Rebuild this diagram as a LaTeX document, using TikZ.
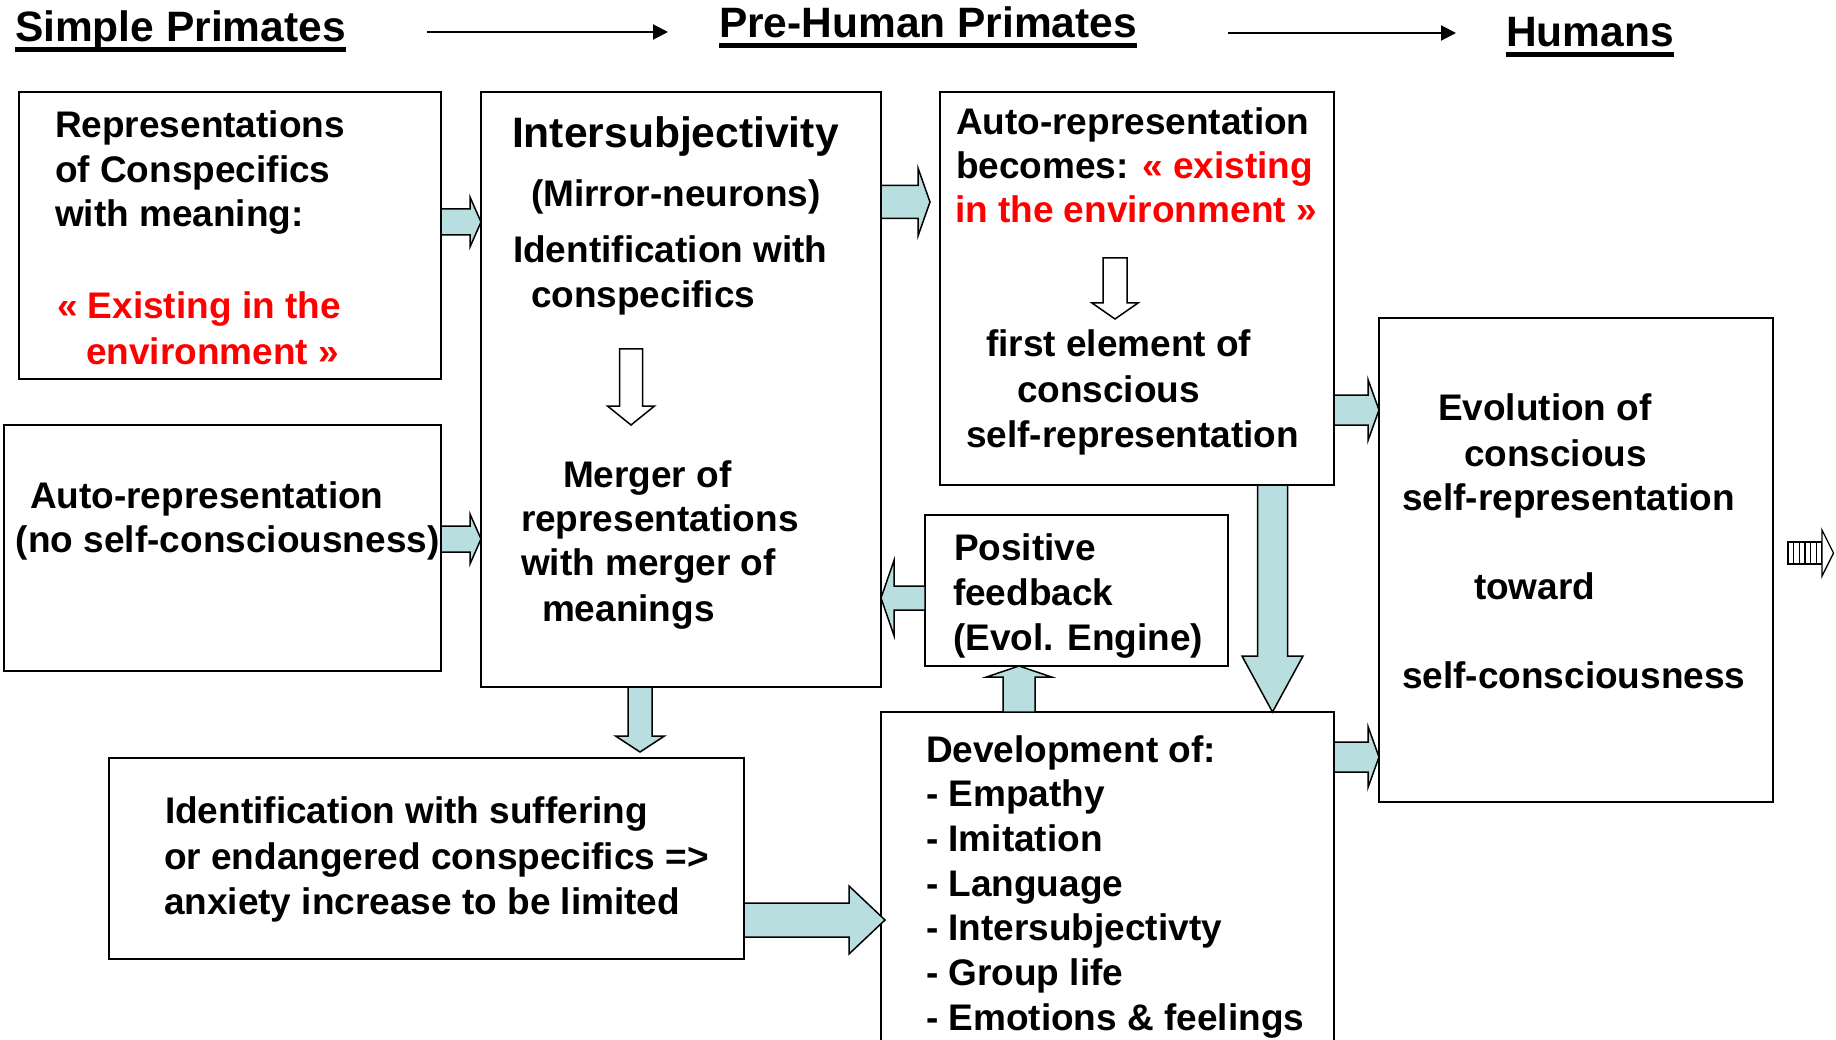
\documentclass[tikz,border=0pt]{standalone}
\usepackage{fontspec}
\usetikzlibrary{calc,arrows.meta}
\newfontfamily\af{Liberation Sans}
\definecolor{cy}{RGB}{184,222,224}
\definecolor{rd}{RGB}{255,0,0}
\newcommand\regf{\af\bfseries\fontsize{37}{44.6}\selectfont}
\newcommand\bigf{\af\bfseries\fontsize{42.6}{51}\selectfont}
\newcommand\ttlf{\af\bfseries\fontsize{42.5}{51}\selectfont}
% block arrow drawn from local origin along local x: #1 options, #2 length, #3 shaft half, #4 head half, #5 head length
\newcommand\barr[5]{\draw[#1] (0,#3) -- ({#2-#5},#3) -- ({#2-#5},#4) -- (#2,0) -- ({#2-#5},-#4) -- ({#2-#5},-#3) -- (0,-#3) -- cycle;}
\tikzset{
  bx/.style={draw, line width=2.2pt, inner sep=0pt, outer sep=0pt, anchor=north west},
  txt/.style={inner sep=0pt, outer sep=0pt, anchor=base west, font=\regf},
  bigtxt/.style={txt, font=\bigf},
  ttl/.style={txt, font=\ttlf},
  blk/.style={fill=cy, draw=black, line width=1.5pt, line join=miter},
  wht/.style={fill=white, draw=black, line width=1.5pt, line join=miter},
  ulin/.style={line width=5pt},
  tarr/.style={line width=2pt, -{Triangle[length=15pt,width=15pt]}}
}
\begin{document}
\begin{tikzpicture}[x=1pt, y=-1pt]
\fill[white] (0,0) rectangle (1836,1040);
\useasboundingbox (0,0) rectangle (1836,1040);

% titles
\node[ttl] (sp) at (15,42) {Simple Primates};
\node[ttl] (ph) at (719,38) {Pre-Human Primates};
\node[ttl] (hu) at (1506,47) {Humans};
\draw[ulin] ([yshift=-7.5pt]sp.base west) -- ([yshift=-7.5pt]sp.base east);
\draw[ulin] ([yshift=-7.5pt]ph.base west) -- ([yshift=-7.5pt]ph.base east);
\draw[ulin] ([yshift=-7.5pt]hu.base west) -- ([yshift=-7.5pt]hu.base east);
\coordinate (t1s) at (427,32);
\coordinate (t1e) at (668,32);
\coordinate (t2s) at (1228,33);
\coordinate (t2e) at (1456,33);
\draw[tarr] (t1s) -- (t1e);
\draw[tarr] (t2s) -- (t2e);

% boxes
\node[bx, minimum width=422pt, minimum height=287pt] (A) at (19,92) {};
\node[bx, minimum width=437pt, minimum height=246pt] (B) at (4,425) {};
\node[bx, minimum width=400pt, minimum height=595pt] (C) at (481,92) {};
\node[bx, minimum width=394pt, minimum height=393pt] (D) at (940,92) {};
\node[bx, minimum width=303pt, minimum height=151pt] (E) at (925,515) {};
\node[bx, minimum width=394pt, minimum height=484pt] (F) at (1379,318) {};
\node[bx, minimum width=635pt, minimum height=201pt] (G) at (109,758) {};
\node[bx, minimum width=453pt, minimum height=380pt] (H) at (881,712) {};

% box A text
\node[txt] (a1) at (55,138) {Representations};
\node[txt] (a2) at (55,182.5) {of Conspecifics};
\node[txt] (a3) at (55,227) {with meaning:};
\node[txt, text=rd] (a4) at (57,319) {« Existing in the};
\node[txt, text=rd] (a5) at (86,364) {environment »};

% box B text
\node[txt] (b1) at (30,508) {Auto-representation};
\node[txt] (b2) at (16,552) {(no self-consciousness)};

% box C text
\node[bigtxt] (c1) at (512,148) {Intersubjectivity};
\node[txt] (c2) at (531,207) {(Mirror-neurons)};
\node[txt] (c3) at (513,263) {Identification with};
\node[txt] (c4) at (531,308) {conspecifics};
\node[txt] (c5) at (563,487) {Merger of};
\node[txt] (c6) at (521,531) {representations};
\node[txt] (c7) at (521,575) {with merger of};
\node[txt] (c8) at (542,621) {meanings};

% box D text
\node[txt] (d1) at (956,135) {Auto-representation};
\node[txt] (d2) at (956,179) {becomes: {\color{rd}« existing}};
\node[txt, text=rd] (d3) at (955,223) {in the environment »};
\node[txt] (d4) at (986,357) {first element of};
\node[txt] (d5) at (1017,402) {conscious};
\node[txt] (d6) at (966,447) {self-representation};

% box E text
\node[txt] (e1) at (954,560) {Positive};
\node[txt] (e2) at (953,605) {feedback};
\node[txt] (e3) at (953,650) {(Evol. Engine)};

% box F text
\node[txt] (f1) at (1438,420) {Evolution of};
\node[txt] (f2) at (1464,466) {conscious};
\node[txt] (f3) at (1402,510) {self-representation};
\node[txt] (f4) at (1474,599) {toward};
\node[txt] (f5) at (1402,688) {self-consciousness};

% box G text
\node[txt] (g1) at (165,823) {Identification with suffering};
\node[txt] (g2) at (164,869) {or endangered conspecifics =>};
\node[txt] (g3) at (164,914) {anxiety increase to be limited};

% box H text
\node[txt] (h1) at (926,762) {Development of:};
\node[txt] (h2) at (926,806.7) {- Empathy};
\node[txt] (h3) at (926,851.4) {- Imitation};
\node[txt] (h4) at (926,896) {- Language};
\node[txt] (h5) at (926,940.8) {- Intersubjectivty};
\node[txt] (h6) at (926,985.5) {- Group life};
\node[txt] (h7) at (926,1030) {- Emotions \& feelings};

% block arrows (connectors)
\barr{blk, shift={($(A.north east)+(0,130)$)}}{40}{13}{25}{11}
\barr{blk, shift={($(B.north east)+(0,114)$)}}{40}{13}{25}{11}
\barr{blk, shift={($(C.north east)+(0,110)$)}}{49}{16.5}{34}{12}
\barr{blk, shift={($(D.north east)+(0,318)$)}}{45}{15}{30.5}{11}
\barr{blk, shift={($(H.north east)+(0,45)$)}}{45}{15}{30.5}{11}
\barr{blk, shift={($(D.south west)+(332.5,0)$)}, rotate=-90}{227}{15}{30.5}{56}
\barr{blk, shift={($(E.north west)+(0,83)$)}, rotate=180}{44}{12}{37.5}{13}
\barr{blk, shift={($(H.north west)+(138,0)$)}, rotate=90}{46}{16}{32.5}{11}
\barr{blk, shift={($(C.south west)+(159,0)$)}, rotate=-90}{65}{12}{24.5}{16}
\barr{blk, shift={($(G.north east)+(0,162)$)}}{141}{17}{34}{36}

% white arrows inside boxes
\barr{wht, shift={($(C.north west)+(150,257)$)}, rotate=-90}{76}{11.5}{23.5}{19}
\barr{wht, shift={($(D.north west)+(175,166)$)}, rotate=-90}{61}{12}{23}{16}

% striped arrow at right
\draw[line width=1.3pt, fill=white] (1788,542) rectangle (1822,564);
\foreach \i in {1,...,5} \draw[line width=1.1pt] ({1788+\i*34/6},542) -- ({1788+\i*34/6},564);
\draw[line width=1.3pt, fill=white, line join=miter] (1822,530) -- (1833.5,553) -- (1822,576) -- cycle;
\end{tikzpicture}
\end{document}
